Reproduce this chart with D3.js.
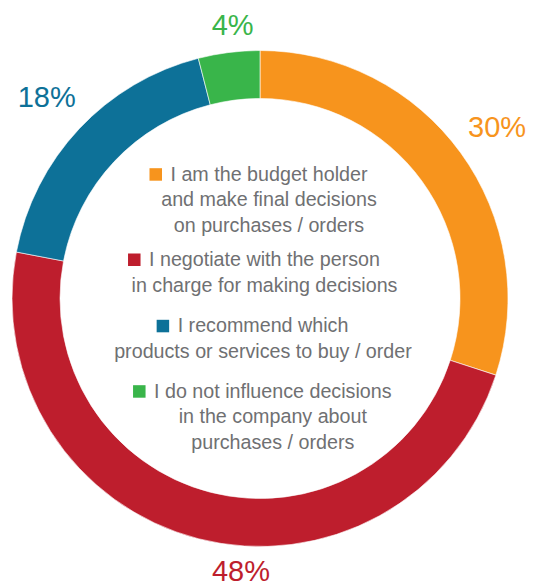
<!DOCTYPE html>
<html>
<head>
<meta charset="utf-8">
<script src="https://cdn.jsdelivr.net/npm/d3@7"></script>
<style>
  body { margin: 0; background: #fff; }
  svg { display: block; }
</style>
</head>
<body>
<div id="chart"></div>
<script>
// data
const categories = [
  "I am the budget holder|and make final decisions|on purchases / orders",
  "I negotiate with the person|in charge for making decisions",
  "I recommend which|products or services to buy / order",
  "I do not influence decisions|in the company about|purchases / orders"
];
const values = [30, 48, 18, 4];
const colors = ["#f7941d", "#be1e2d", "#0d7198", "#39b54a"];

// layout only (label angle in degrees from top, radius), legend anchors
const labelAngles = [54, 184, 313.5, 354.3];
const labelRadii = [293, 273, 294, 275];
const legendAnchors = [[269, 180.7], [264.5, 266], [263, 332.3], [272.8, 397.7]];

function createDonut(selector) {
  const width = 533, height = 588;
  const cx = 260, cy = 298.5;
  const outerR = 248, innerR = 200;
  const lineH = 25.7;

  const data = values.map((v, i) => ({ value: v, name: categories[i], color: colors[i] }));

  const pie = d3.pie().sort(null).value(d => d.value);
  const arcs = pie(data);
  const arc = d3.arc().innerRadius(innerR).outerRadius(outerR);

  const svg = d3.select(selector).append("svg")
    .attr("width", width)
    .attr("height", height)
    .style("font-family", "'Liberation Sans', Arial, Helvetica, sans-serif");

  const g = svg.append("g").attr("transform", `translate(${cx},${cy})`);

  g.selectAll("path.slice")
    .data(arcs)
    .enter().append("path")
    .attr("class", "slice")
    .attr("fill", d => d.data.color)
    .attr("stroke", "#fff")
    .attr("stroke-width", 0.6)
    .attr("d", arc);

  // percentage labels
  const toRad = a => a * Math.PI / 180;
  g.selectAll("text.pct")
    .data(arcs)
    .enter().append("text")
    .attr("class", "pct")
    .attr("x", (d, i) => labelRadii[i] * Math.sin(toRad(labelAngles[i])))
    .attr("y", (d, i) => -labelRadii[i] * Math.cos(toRad(labelAngles[i])))
    .attr("dy", "0.36em")
    .attr("text-anchor", "middle")
    .style("font-size", "29px")
    .attr("fill", d => d.data.color)
    .text(d => d.data.value + "%");

  // legend in the hole
  const legend = svg.append("g");
  data.forEach((d, i) => {
    const [lx, ly] = legendAnchors[i];
    const lines = d.name.split("|");
    const block = legend.append("g");
    const texts = block.selectAll("text")
      .data(lines)
      .enter().append("text")
      .attr("x", lx)
      .attr("y", (t, j) => ly + j * lineH)
      .attr("text-anchor", "middle")
      .attr("fill", "#6f7072")
      .style("font-size", "19.7px")
      .text(t => t);
    const w = texts.node().getComputedTextLength();
    block.append("rect")
      .attr("x", lx - w / 2 - 21)
      .attr("y", ly - 12.5)
      .attr("width", 12.5)
      .attr("height", 12.5)
      .attr("fill", d.color);
  });
}

createDonut("#chart");
</script>
</body>
</html>
